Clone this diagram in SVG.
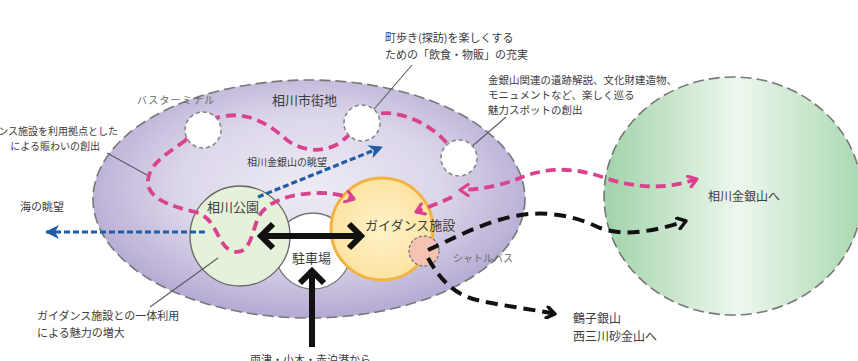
<svg xmlns="http://www.w3.org/2000/svg" width="858" height="361" viewBox="0 0 858 361">
<defs>
<radialGradient id="gPurple" cx="0.5" cy="0.45" r="0.55">
<stop offset="0" stop-color="#eeebf4"/>
<stop offset="0.55" stop-color="#dcd6ea"/>
<stop offset="1" stop-color="#b4a9d2"/>
</radialGradient>
<linearGradient id="gGreen" x1="0" y1="0" x2="1" y2="0">
<stop offset="0" stop-color="#a0d3a9"/>
<stop offset="0.52" stop-color="#eef7ee"/>
<stop offset="1" stop-color="#a9d9b1"/>
</linearGradient>
<radialGradient id="gOrange" cx="0.5" cy="0.5" r="0.5">
<stop offset="0" stop-color="#fff3c9"/>
<stop offset="1" stop-color="#fde3a3"/>
</radialGradient>
<marker id="mPink" markerUnits="userSpaceOnUse" viewBox="0 0 14 14" refX="11" refY="7" markerWidth="14" markerHeight="14" orient="auto-start-reverse">
<path d="M3,1.5 L11,7 L3,12.5" fill="none" stroke="#d9428e" stroke-width="3.2" stroke-linecap="round" stroke-linejoin="round"/>
</marker>
<marker id="mBlack" markerUnits="userSpaceOnUse" viewBox="0 0 14 14" refX="11" refY="7" markerWidth="14" markerHeight="14" orient="auto">
<path d="M3,1.5 L11,7 L3,12.5" fill="none" stroke="#111" stroke-width="3.4" stroke-linecap="round" stroke-linejoin="round"/>
</marker>
<marker id="mBlue" markerUnits="userSpaceOnUse" viewBox="0 0 14 14" refX="13" refY="7" markerWidth="14" markerHeight="14" orient="auto">
<path d="M0,0 L14,7 L0,14 L4,7 Z" fill="#1f5ea6"/>
</marker>
<style>
.t{font-family:"Noto Sans CJK JP","Noto Sans",sans-serif;fill:#3c3c3c}
.s10{font-size:10px}
.s105{font-size:10.5px}
.s11{font-size:11px}
.s12{font-size:12px}
.s13{font-size:13px}
.lt{fill:#6a6a6a}
.pink{fill:none;stroke:#d9428e;stroke-width:3.8;stroke-dasharray:10 6}
.blue{fill:none;stroke:#1f5ea6;stroke-width:3.2;stroke-dasharray:6 3}
.bdash{fill:none;stroke:#111;stroke-width:4;stroke-dasharray:12 7}
.solid{fill:none;stroke:#111;stroke-width:6;stroke-linejoin:miter}
.lead{fill:none;stroke:#5a5a6a;stroke-width:1.1}
.wc{fill:#fff;stroke:#888;stroke-width:1.6;stroke-dasharray:4 3}
</style>
</defs>

<g id="town">
<ellipse cx="309" cy="199" rx="216" ry="119" fill="url(#gPurple)" stroke="#777" stroke-width="1.6" stroke-dasharray="11 5"/>
<text class="t s13" x="272" y="105" fill="#555">相川市街地</text>
</g>
<g id="mine">
<ellipse cx="733" cy="196" rx="129" ry="119" fill="url(#gGreen)" stroke="#777" stroke-width="1.6" stroke-dasharray="11 5"/>
<text class="t s12" x="708" y="201" fill="#555">相川金銀山へ</text>
</g>
<g id="parking">
<circle cx="313" cy="251" r="38" fill="#fff" stroke="#777" stroke-width="1.3"/>
</g>
<g id="park">
<circle cx="240" cy="236" r="50" fill="#e6f1da" stroke="#666" stroke-width="1.3"/>
</g>
<g id="guidance">
<circle cx="382" cy="229" r="51" fill="url(#gOrange)" stroke="#f2b441" stroke-width="3"/>
</g>
<g id="shuttle">
<circle cx="424" cy="251" r="15" fill="#f6c3b3" stroke="#777" stroke-width="1.3" stroke-dasharray="3 2"/>
</g>

<g id="connectors">
<path class="pink" d="M186,140 C170,152 150,162 148,180 C146,198 170,206 195,212 C218,218 216,245 232,251 C250,257 252,232 258,218 C266,201 292,193 320,193 C335,193 345,196 354,199" marker-end="url(#mPink)"/>
<path class="pink" d="M186,140 C195,128 208,118 225,116 C250,112 270,125 287,140 C300,150 320,154 338,144 C352,134 360,122 370,116 C390,108 420,118 440,136 C450,146 455,152 459,158"/>
<path class="pink" d="M697,179 C665,190 635,188 605,178 C575,167 545,167 520,178 C505,184 482,190 460,190" marker-start="url(#mPink)" marker-end="url(#mPink)"/>
<path class="pink" d="M452,197 C440,203 428,207 416,212" marker-end="url(#mPink)"/>
<path class="blue" d="M205,232 L46,232" marker-end="url(#mBlue)"/>
<path class="blue" d="M258,197 L382,147" marker-end="url(#mBlue)"/>
<path class="bdash" d="M428,250 C450,240 480,224 510,217 C545,209 575,216 600,228 C625,237 655,231 686,221" marker-end="url(#mBlack)"/>
<path class="bdash" d="M428,258 C440,280 455,295 477,300 C497,305 525,308 555,314" marker-end="url(#mBlack)"/>
<path class="solid" d="M262,236 L360,236 M273,224 L261,236 L273,248 M349,224 L361,236 L349,248"/>
<path class="solid" d="M312,347 L312,272 M300,283 L312,271 L324,283"/>
<path class="lead" d="M107,153 L147,175"/>
<path class="lead" d="M412,65 L363,122"/>
<path class="lead" d="M506,117 L462,155"/>
<path class="lead" d="M150,307 L218,258"/>
</g>

<g id="busterminal">
<circle class="wc" cx="203" cy="130" r="18"/>
<text class="t s10 lt" x="137" y="104" letter-spacing="1.2">バスターミナル</text>
</g>
<g id="spot1">
<circle class="wc" cx="362" cy="123" r="18"/>
</g>
<g id="spot2">
<circle class="wc" cx="459" cy="158" r="18"/>
</g>

<g id="labels">
<text class="t s13" x="207" y="212">相川公園</text>
<text class="t s13" x="292" y="263">駐車場</text>
<text class="t s13" x="365" y="230">ガイダンス施設</text>
<text class="t s10 lt" x="453" y="262">シャトルバス</text>
<text class="t s10" x="247" y="166">相川金銀山の眺望</text>
<text class="t s11" x="20" y="211">海の眺望</text>
<text class="t s10" x="118" y="135" text-anchor="end">ンス施設を利用拠点とした</text>
<text class="t s10" x="100" y="150" text-anchor="end">による賑わいの創出</text>
<text class="t s11" x="385" y="42">町歩き(探訪)を楽しくする</text>
<text class="t s11" x="385" y="59">ための「飲食・物販」の充実</text>
<text class="t s105" x="488" y="84">金銀山関連の遺跡解説、文化財建造物、</text>
<text class="t s105" x="488" y="99">モニュメントなど、楽しく巡る</text>
<text class="t s105" x="488" y="114">魅力スポットの創出</text>
<text class="t s11" x="37" y="320">ガイダンス施設との一体利用</text>
<text class="t s11" x="37" y="337">による魅力の増大</text>
<text class="t s12" x="573" y="323">鶴子銀山</text>
<text class="t s12" x="573" y="341">西三川砂金山へ</text>
<text class="t s11" x="250" y="364">両津・小木・赤泊港から</text>
</g>
</svg>
